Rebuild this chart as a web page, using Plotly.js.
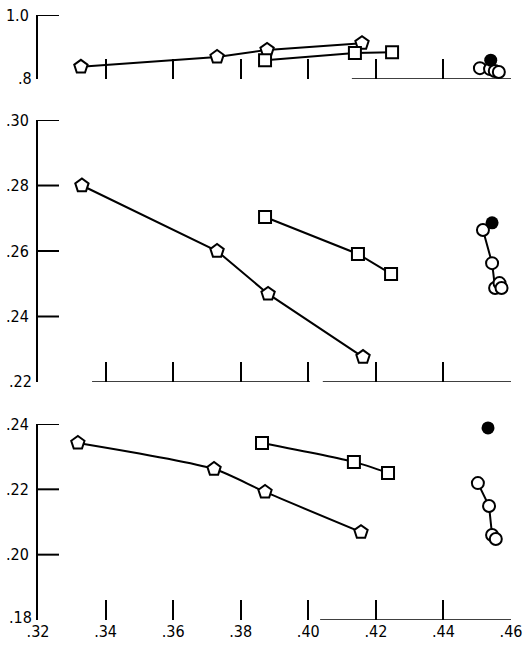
<!DOCTYPE html>
<html>
<head>
<meta charset="utf-8">
<script src="https://cdn.plot.ly/plotly-3.0.1.min.js"></script>
<style>
  html, body { margin: 0; padding: 0; background: #fff; }
  #chart { width: 525px; height: 646px; }
</style>
</head>
<body>
<div id="chart"></div>
<script>
// Shared abscissa ticks
const xTickVals = [0.32, 0.34, 0.36, 0.38, 0.40, 0.42, 0.44, 0.46];
const xTickText = ['.32', '.34', '.36', '.38', '.40', '.42', '.44', '.46'];

// Upper panel (0.8 – 1.0)
const topPentX = [0.3327, 0.3730, 0.3878, 0.4159];
const topPentY = [0.838, 0.869, 0.891, 0.912];
const topDX = [0.3872, 0.4138, 0.4248];
const topDY = [0.859, 0.881, 0.884];
const topOpenX = [0.4508, 0.4538, 0.4552, 0.4564];
const topOpenY = [0.834, 0.831, 0.825, 0.822];
const topSolidX = [0.4540];
const topSolidY = [0.859];

// Middle panel (0.22 – 0.30)
const midPentX = [0.3330, 0.3730, 0.3881, 0.4162];
const midPentY = [0.2800, 0.2600, 0.2469, 0.2276];
const midDX = [0.3872, 0.4147, 0.4245];
const midDY = [0.2704, 0.2591, 0.2530];
const midOpenX = [0.4517, 0.4544, 0.4553, 0.4566, 0.4572];
const midOpenY = [0.2664, 0.2563, 0.2487, 0.2502, 0.2487];
const midSolidX = [0.4544];
const midSolidY = [0.2686];

// Lower panel (0.18 – 0.24)
const lowPentX = [0.3318, 0.3721, 0.3872, 0.4156];
const lowPentY = [0.2342, 0.2262, 0.2192, 0.2069];
const lowDX = [0.3863, 0.4135, 0.4236];
const lowDY = [0.2342, 0.2284, 0.2250];
const lowOpenX = [0.4502, 0.4535, 0.4544, 0.4555];
const lowOpenY = [0.2219, 0.2149, 0.2060, 0.2048];
const lowSolidX = [0.4532];
const lowSolidY = [0.2388];

// Y-axis ranges, tick marks and labels per panel
const topRange = [0.8, 1.0];
const topTickVals = [1.0];
const topTickText = ['1.0'];
const midRange = [0.22, 0.30];
const midTickVals = [0.24, 0.26, 0.28, 0.30];
const midTickText = ['.24', '.26', '.28', '.30'];
const lowRange = [0.18, 0.24];
const lowTickVals = [0.20, 0.22, 0.24];
const lowTickText = ['.20', '.22', '.24'];

// Drawn stretches of each panel's baseline (x from, x to)
const topBase = [[0.4129, 0.4600]];
const midBase = [[0.3360, 0.4005], [0.4043, 0.4605]];
const lowBase = [[0.4035, 0.4600]];

const FONT = 'DejaVu Sans Condensed, Liberation Sans Narrow, Arial Narrow, sans-serif';
const INK = '#000';

function series(x, y, xa, ya, symbol, size, lineShape) {
  return { x, y, xaxis: xa, yaxis: ya, mode: 'lines+markers', type: 'scatter', cliponaxis: false,
    line: { color: INK, width: 2, shape: lineShape, smoothing: 0.7 },
    marker: { symbol, size, color: '#fff', line: { color: INK, width: 2 } },
    hoverinfo: 'skip' };
}
function openCircles(x, y, xa, ya, withLine) {
  return { x, y, xaxis: xa, yaxis: ya, mode: withLine ? 'lines+markers' : 'markers', type: 'scatter',
    cliponaxis: false, line: { color: INK, width: 2 },
    marker: { symbol: 'circle', size: 12, color: '#fff', line: { color: INK, width: 2 } },
    hoverinfo: 'skip' };
}
function solidCircle(x, y, xa, ya) {
  return { x, y, xaxis: xa, yaxis: ya, mode: 'markers', type: 'scatter', cliponaxis: false,
    marker: { symbol: 'circle', size: 13, color: INK }, hoverinfo: 'skip' };
}

// Middle panel: only the first three open circles are joined
const midLineX = midOpenX.slice(0, 3);
const midLineY = midOpenY.slice(0, 3);

const data = [
  series(topPentX, topPentY, 'x3', 'y3', 'pentagon', 14, 'linear'),
  series(topDX, topDY, 'x3', 'y3', 'square', 12, 'linear'),
  openCircles(topOpenX, topOpenY, 'x3', 'y3', false),
  solidCircle(topSolidX, topSolidY, 'x3', 'y3'),

  series(midPentX, midPentY, 'x2', 'y2', 'pentagon', 14, 'linear'),
  series(midDX, midDY, 'x2', 'y2', 'square', 12, 'linear'),
  { x: midLineX, y: midLineY, xaxis: 'x2', yaxis: 'y2', mode: 'lines', type: 'scatter',
    line: { color: INK, width: 2 }, hoverinfo: 'skip' },
  openCircles(midOpenX, midOpenY, 'x2', 'y2', false),
  solidCircle(midSolidX, midSolidY, 'x2', 'y2'),

  series(lowPentX, lowPentY, 'x', 'y', 'pentagon', 14, 'spline'),
  series(lowDX, lowDY, 'x', 'y', 'square', 12, 'spline'),
  openCircles(lowOpenX, lowOpenY, 'x', 'y', true),
  solidCircle(lowSolidX, lowSolidY, 'x', 'y')
];

function xAxis(anchor, showLabels) {
  return { anchor, range: [0.32, 0.46], tickvals: xTickVals, ticktext: xTickText,
    showticklabels: showLabels, ticks: 'inside', ticklen: 20, tickwidth: 2, tickcolor: INK,
    showline: false, showgrid: false, zeroline: false,
    tickfont: { family: FONT, size: 16, color: INK } };
}
function yAxis(anchor, domain, range, vals, text) {
  return { anchor, domain, range, tickvals: vals, ticktext: text, ticks: '',
    showline: true, linewidth: 2, linecolor: INK,
    showgrid: false, zeroline: false, ticklabelstandoff: 4,
    tickfont: { family: FONT, size: 16, color: INK } };
}

const shapes = [];
// Partial baselines
function addBase(segs, xref, yref, yv) {
  segs.forEach(s => shapes.push({ type: 'line', xref, yref, x0: s[0], x1: s[1], y0: yv, y1: yv,
    line: { color: INK, width: 1.5 } }));
}
addBase(topBase, 'x3', 'y3', topRange[0]);
addBase(midBase, 'x2', 'y2', midRange[0]);
addBase(lowBase, 'x', 'y', lowRange[0]);

// Inward tick marks on the ordinate axes, about 20 px long from the axis
function addYTicks(vals, xref, yref) {
  vals.forEach(v => shapes.push({ type: 'line', xref, yref, xsizemode: 'pixel', xanchor: 0.32,
    x0: 0, x1: 21, y0: v, y1: v, line: { color: INK, width: 2 } }));
}
addYTicks(topTickVals, 'x3', 'y3');
addYTicks(midTickVals, 'x2', 'y2');
addYTicks(lowTickVals, 'x', 'y');

// Bottom value label of each panel, set beside the axis corner
const annotations = [
  { text: '.8', xref: 'paper', yref: 'y3', x: 0, y: topRange[0] + 0.002 },
  { text: '.22', xref: 'paper', yref: 'y2', x: 0, y: midRange[0] },
  { text: '.18', xref: 'paper', yref: 'y', x: 0, y: lowRange[0] + 0.0008 }
].map(a => Object.assign(a, { xanchor: 'right', yanchor: 'middle', showarrow: false, xshift: -4,
  font: { family: FONT, size: 16, color: INK } }));

const layout = {
  width: 525, height: 646,
  margin: { l: 38, r: 14, t: 15, b: 26 },
  paper_bgcolor: '#fff', plot_bgcolor: '#fff',
  showlegend: false,
  xaxis: xAxis('y', true),
  xaxis2: xAxis('y2', false),
  xaxis3: xAxis('y3', false),
  yaxis: yAxis('x', [0, 0.324], lowRange, lowTickVals, lowTickText),
  yaxis2: yAxis('x2', [0.3934, 0.8264], midRange, midTickVals, midTickText),
  yaxis3: yAxis('x3', [0.8942, 1.0], topRange, topTickVals, topTickText),
  shapes, annotations
};

Plotly.newPlot('chart', data, layout, { staticPlot: true, displayModeBar: false });
</script>
</body>
</html>
